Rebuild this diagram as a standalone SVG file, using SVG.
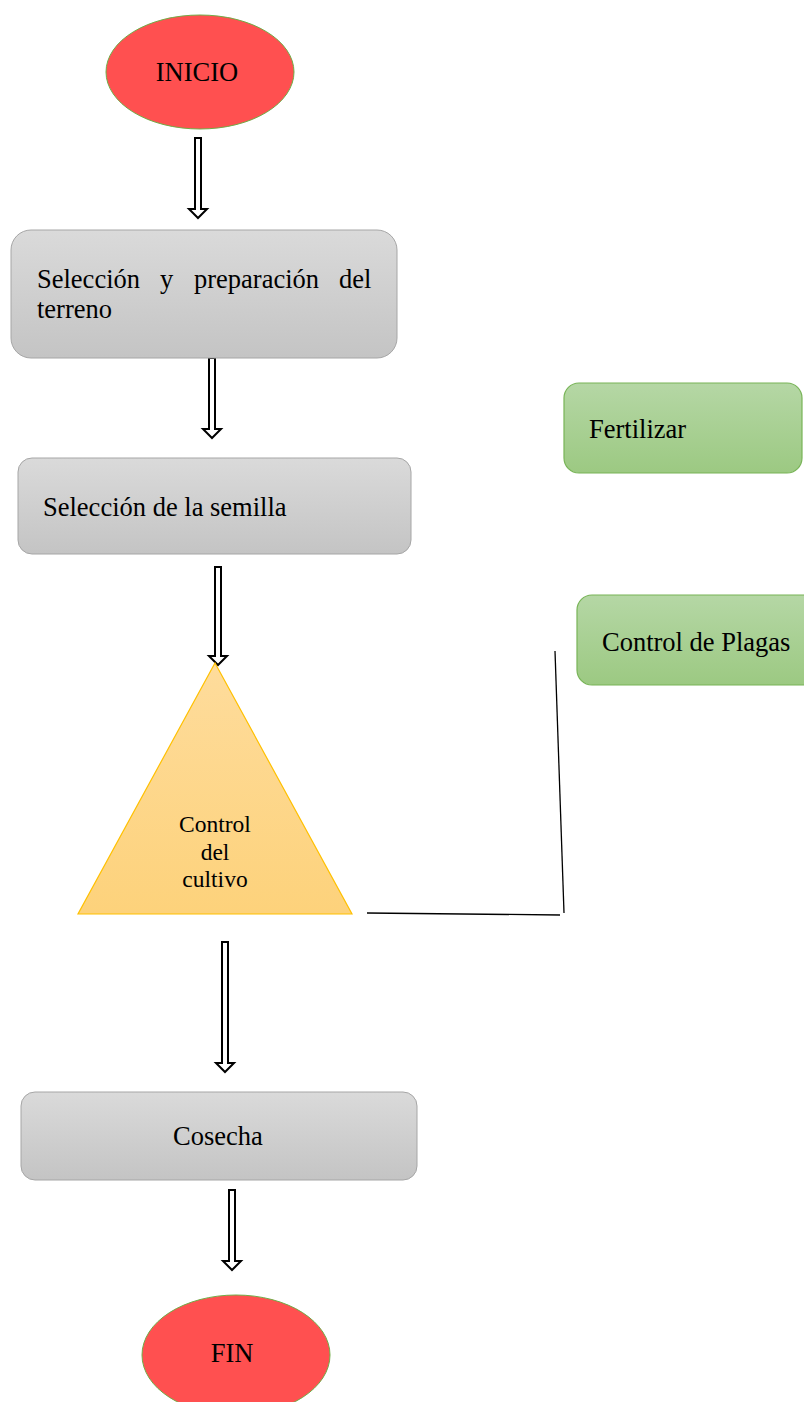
<svg xmlns="http://www.w3.org/2000/svg" width="804" height="1402" viewBox="0 0 804 1402">
<style>
text{font-family:"Liberation Serif","Times New Roman",serif;fill:#000;}
.t26{font-size:26.5px;}
.t23{font-size:23.5px;}
.gray{fill:url(#gGray);stroke:#a6a6a6;stroke-width:1;}
.green{fill:url(#gGreen);stroke:#78b457;stroke-width:1.2;}
.red{fill:#ff5050;stroke:#70ad47;stroke-width:1;}
.arrow{fill:#fff;stroke:#000;stroke-width:2;stroke-linejoin:miter;}
.line{fill:none;stroke:#000;stroke-width:1.3;}
</style>
<defs>
<linearGradient id="gGray" x1="0" y1="0" x2="0" y2="1">
<stop offset="0" stop-color="#dadada"/>
<stop offset="1" stop-color="#c4c4c4"/>
</linearGradient>
<linearGradient id="gGreen" x1="0" y1="0" x2="0" y2="1">
<stop offset="0" stop-color="#b5d7a5"/>
<stop offset="1" stop-color="#9cc982"/>
</linearGradient>
<linearGradient id="gGold" x1="0" y1="0" x2="0" y2="1">
<stop offset="0" stop-color="#fedc9c"/>
<stop offset="1" stop-color="#fdd27b"/>
</linearGradient>
</defs>

<g id="connectors">
<path class="arrow" d="M195,138 H201 V209 H207 L198,218 L189,209 H195 Z"/>
<path class="arrow" d="M209,358 H215 V429 H221 L212,438 L203,429 H209 Z"/>
<path class="arrow" d="M215,567 H221 V656 H227 L218,665 L209,656 H215 Z"/>
<path class="arrow" d="M222,942 H228 V1063 H234 L225,1072 L216,1063 H222 Z"/>
<path class="arrow" d="M229,1190 H235 V1261 H241 L232,1270 L223,1261 H229 Z"/>
<line class="line" x1="367" y1="913" x2="560" y2="915"/>
<line class="line" x1="555" y1="651" x2="564" y2="913"/>
</g>

<g id="inicio">
<ellipse class="red" cx="200" cy="72" rx="94" ry="57"/>
<text class="t26" x="197" y="81" text-anchor="middle">INICIO</text>
</g>

<g id="seleccion-terreno">
<rect class="gray" x="11" y="230" width="386" height="128" rx="20"/>
<text class="t26" y="288"><tspan x="37">Selección</tspan><tspan x="160">y</tspan><tspan x="194">preparación</tspan><tspan x="339">del</tspan></text>
<text class="t26" x="37" y="318">terreno</text>
</g>

<g id="seleccion-semilla">
<rect class="gray" x="18" y="458" width="393" height="96" rx="14"/>
<text class="t26" x="43" y="516">Selección de la semilla</text>
</g>

<g id="control-cultivo">
<polygon points="215,663 352,914 78,914" fill="url(#gGold)" stroke="#ffc000" stroke-width="1.2"/>
<text class="t23" x="215" y="832" text-anchor="middle">Control</text>
<text class="t23" x="215" y="860" text-anchor="middle">del</text>
<text class="t23" x="215" y="887" text-anchor="middle">cultivo</text>
</g>

<g id="fertilizar">
<rect class="green" x="564" y="383" width="238" height="90" rx="15"/>
<text class="t26" x="589" y="438">Fertilizar</text>
</g>

<g id="control-plagas">
<rect class="green" x="577" y="595" width="250" height="90" rx="15"/>
<text class="t26" x="602" y="651">Control de Plagas</text>
</g>

<g id="cosecha">
<rect class="gray" x="21" y="1092" width="396" height="88" rx="14"/>
<text class="t26" x="218" y="1145" text-anchor="middle">Cosecha</text>
</g>

<g id="fin">
<ellipse class="red" cx="236" cy="1355" rx="94" ry="60"/>
<text class="t26" x="232" y="1362" text-anchor="middle">FIN</text>
</g>
</svg>
